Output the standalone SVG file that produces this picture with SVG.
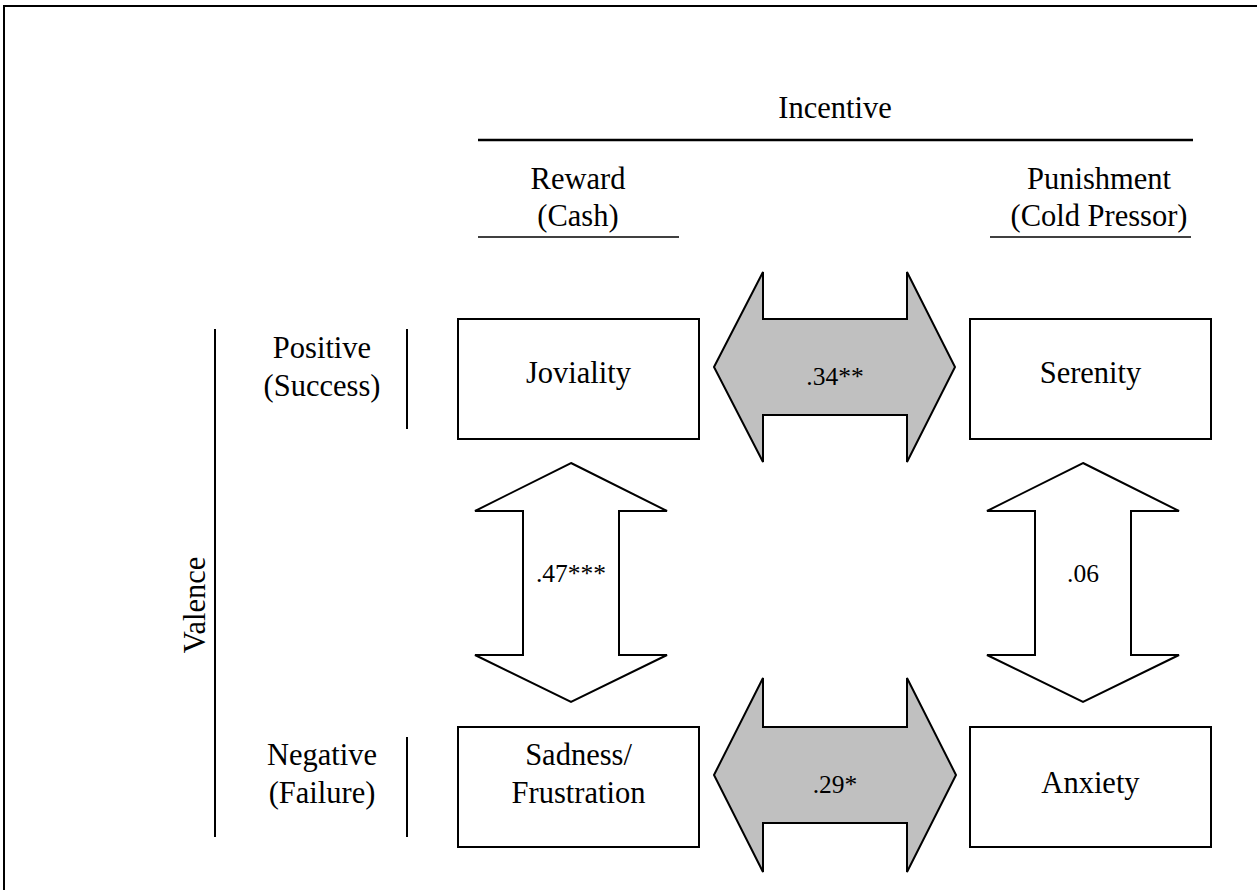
<svg xmlns="http://www.w3.org/2000/svg" width="1257" height="890" viewBox="0 0 1257 890">
  <style>
    text { font-family: "Liberation Serif", "Times New Roman", serif; fill: #000; text-anchor: middle; }
    .lbl { font-size: 30.5px; }
    .num { font-size: 25.5px; }
    .box { fill: #fff; stroke: #000; stroke-width: 2; }
    .arrow-grey { fill: #c0c0c0; stroke: #000; stroke-width: 2; stroke-linejoin: miter; }
    .arrow-white { fill: #fff; stroke: #000; stroke-width: 2; stroke-linejoin: miter; }
    .rule { stroke: #000; fill: none; }
  </style>

  <rect width="1257" height="890" fill="#fff"/>

  <!-- outer frame (top and left edges) -->
  <g id="frame" class="rule">
    <line x1="4" y1="6" x2="1257" y2="6" stroke-width="2.2"/>
    <line x1="4" y1="5" x2="4" y2="890" stroke-width="2"/>
  </g>

  <!-- column headings -->
  <g id="incentive-header">
    <text class="lbl" x="835" y="118">Incentive</text>
    <line class="rule" x1="478" y1="140" x2="1193" y2="140" stroke-width="2.5"/>
  </g>
  <g id="reward-header">
    <text class="lbl" x="578" y="189">Reward</text>
    <text class="lbl" x="578" y="226">(Cash)</text>
    <line class="rule" x1="478" y1="237" x2="679" y2="237" stroke-width="1.5"/>
  </g>
  <g id="punishment-header">
    <text class="lbl" x="1099" y="189">Punishment</text>
    <text class="lbl" x="1099" y="226">(Cold Pressor)</text>
    <line class="rule" x1="990" y1="237" x2="1191" y2="237" stroke-width="1.5"/>
  </g>

  <!-- row headings -->
  <g id="valence-header">
    <text class="lbl" transform="translate(205 605) rotate(-90)" x="0" y="0">Valence</text>
    <line class="rule" x1="215" y1="329" x2="215" y2="837" stroke-width="2"/>
  </g>
  <g id="positive-header">
    <text class="lbl" x="322" y="358">Positive</text>
    <text class="lbl" x="322" y="396">(Success)</text>
    <line class="rule" x1="407" y1="329" x2="407" y2="429" stroke-width="2"/>
  </g>
  <g id="negative-header">
    <text class="lbl" x="322" y="765">Negative</text>
    <text class="lbl" x="322" y="803">(Failure)</text>
    <line class="rule" x1="407" y1="737" x2="407" y2="837" stroke-width="2"/>
  </g>

  <!-- emotion nodes -->
  <g id="joviality">
    <rect class="box" x="458" y="319" width="241" height="120"/>
    <text class="lbl" x="578.5" y="383">Joviality</text>
  </g>
  <g id="serenity">
    <rect class="box" x="970" y="319" width="241" height="120"/>
    <text class="lbl" x="1090.5" y="383">Serenity</text>
  </g>
  <g id="sadness">
    <rect class="box" x="458" y="727" width="241" height="120"/>
    <text class="lbl" x="578.5" y="765">Sadness/</text>
    <text class="lbl" x="578.5" y="803">Frustration</text>
  </g>
  <g id="anxiety">
    <rect class="box" x="970" y="727" width="241" height="120"/>
    <text class="lbl" x="1090.5" y="793">Anxiety</text>
  </g>

  <!-- correlation arrows -->
  <g id="connectors">
    <g id="joviality-serenity">
      <polygon class="arrow-grey" points="714,367 763,272 763,319 907,319 907,272 955,367 907,462 907,415 763,415 763,462"/>
      <text class="num" x="835" y="385">.34**</text>
    </g>
    <g id="sadness-anxiety">
      <polygon class="arrow-grey" points="714,775 763,678 763,727 907,727 907,678 956,775 907,872 907,823 763,823 763,872"/>
      <text class="num" x="835" y="793">.29*</text>
    </g>
    <g id="joviality-sadness">
      <polygon class="arrow-white" points="571,463 667,511 619,511 619,655 667,655 571,702 475,655 523,655 523,511 475,511"/>
      <text class="num" x="571" y="582">.47***</text>
    </g>
    <g id="serenity-anxiety">
      <polygon class="arrow-white" points="1083,463 1179,511 1131,511 1131,655 1179,655 1083,702 987,655 1035,655 1035,511 987,511"/>
      <text class="num" x="1083" y="582">.06</text>
    </g>
  </g>
</svg>
